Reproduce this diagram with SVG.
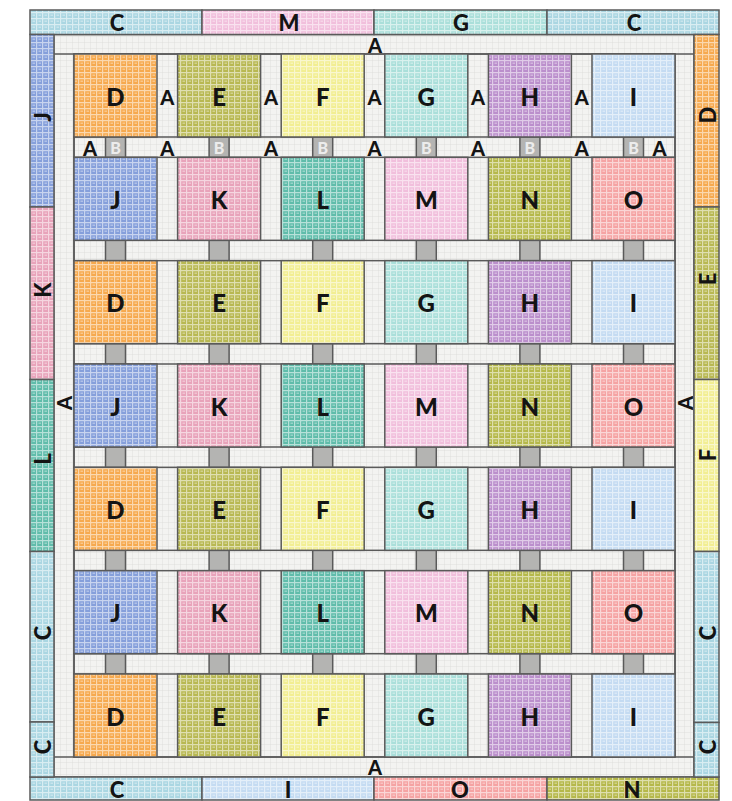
<svg xmlns="http://www.w3.org/2000/svg" width="732" height="801" viewBox="0 0 732 801">
<defs>
<pattern id="tex" width="6" height="6" patternUnits="userSpaceOnUse">
<path d="M0 0.6H6M0.6 0V6" stroke="#fff" stroke-opacity="0.55" stroke-width="1.2"/>
<rect x="2.5" y="2.5" width="2.5" height="1.5" fill="#fff" opacity="0.35"/>
</pattern>
<pattern id="tex2" width="6" height="6" patternUnits="userSpaceOnUse">
<path d="M0 0.5H6M0.5 0V6" stroke="#d8d8d6" stroke-opacity="0.45" stroke-width="0.8"/>
</pattern>
</defs>
<style>
.tx{fill:url(#tex);stroke:#5a5a5a;stroke-width:1.5}
.sh{fill:#f3f3f1;stroke:#5a5a5a;stroke-width:1.5}
.st{fill:url(#tex2);stroke:none}
.cs{fill:#b4b4b2;stroke:#5a5a5a;stroke-width:1.5}
.D{fill:#f6a94e}.E{fill:#b8b852}.F{fill:#f2ee92}.G{fill:#aadfda}.H{fill:#bb8fcc}.I{fill:#c4dbf2}
.J{fill:#859fdb}.K{fill:#e8a3ba}.L{fill:#5fbcaa}.M{fill:#f1bfdc}.N{fill:#b5b84a}.O{fill:#f5a3a3}.C{fill:#aad6e2}
text{font-family:"Lato","DejaVu Sans",sans-serif;font-weight:900;fill:#141414;text-anchor:middle;dominant-baseline:central}
.bl{font-size:24px}
.sa{font-size:20px}
.bd{font-size:22px}
.bb{font-size:16px;fill:#ececec}
</style>

<g id="sashing">
<rect class="sh" x="54" y="34.5" width="640" height="742.5"/>
<rect class="st" x="54" y="34.5" width="640" height="742.5"/>
<rect fill="none" stroke="#5a5a5a" stroke-width="1.5" x="74" y="54" width="601" height="703"/>
<line x1="54" y1="54" x2="694" y2="54" stroke="#5a5a5a" stroke-width="1.5"/>
<line x1="54" y1="757" x2="694" y2="757" stroke="#5a5a5a" stroke-width="1.5"/>
<g fill="none" stroke="#5a5a5a" stroke-width="1.5">
<rect x="74" y="137" width="601" height="20.33"/>
<rect x="74" y="240.33" width="601" height="20.33"/>
<rect x="74" y="343.67" width="601" height="20.33"/>
<rect x="74" y="447" width="601" height="20.33"/>
<rect x="74" y="550.33" width="601" height="20.33"/>
<rect x="74" y="653.67" width="601" height="20.33"/>
</g>
<text class="sa" x="375" y="44.5">A</text>
<text class="sa" x="375" y="766.5">A</text>
<text class="sa" x="64" y="403" transform="rotate(-90 64 403)">A</text>
<text class="sa" x="685" y="403" transform="rotate(-90 685 403)">A</text>
<text class="sa" x="167.3" y="97">A</text>
<text class="sa" x="270.9" y="97">A</text>
<text class="sa" x="374.5" y="97">A</text>
<text class="sa" x="478.1" y="97">A</text>
<text class="sa" x="581.7" y="97">A</text>
<text class="sa" x="90" y="147.5">A</text>
<text class="sa" x="167.3" y="147.5">A</text>
<text class="sa" x="270.9" y="147.5">A</text>
<text class="sa" x="374.5" y="147.5">A</text>
<text class="sa" x="478.1" y="147.5">A</text>
<text class="sa" x="581.7" y="147.5">A</text>
<text class="sa" x="659.5" y="147.5">A</text>
</g>

<g id="cornerstones">
<g id="cs-row1">
<rect class="cs" x="105.5" y="137" width="20" height="20.33"/><rect class="cs" x="209.1" y="137" width="20" height="20.33"/><rect class="cs" x="312.7" y="137" width="20" height="20.33"/><rect class="cs" x="416.3" y="137" width="20" height="20.33"/><rect class="cs" x="519.9" y="137" width="20" height="20.33"/><rect class="cs" x="623.5" y="137" width="20" height="20.33"/>
<text class="bb" x="115.5" y="147.5">B</text><text class="bb" x="219.1" y="147.5">B</text><text class="bb" x="322.7" y="147.5">B</text><text class="bb" x="426.3" y="147.5">B</text><text class="bb" x="529.9" y="147.5">B</text><text class="bb" x="633.5" y="147.5">B</text>
</g>
<g id="cs-row2">
<rect class="cs" x="105.5" y="240.33" width="20" height="20.33"/><rect class="cs" x="209.1" y="240.33" width="20" height="20.33"/><rect class="cs" x="312.7" y="240.33" width="20" height="20.33"/><rect class="cs" x="416.3" y="240.33" width="20" height="20.33"/><rect class="cs" x="519.9" y="240.33" width="20" height="20.33"/><rect class="cs" x="623.5" y="240.33" width="20" height="20.33"/>
</g>
<g id="cs-row3">
<rect class="cs" x="105.5" y="343.67" width="20" height="20.33"/><rect class="cs" x="209.1" y="343.67" width="20" height="20.33"/><rect class="cs" x="312.7" y="343.67" width="20" height="20.33"/><rect class="cs" x="416.3" y="343.67" width="20" height="20.33"/><rect class="cs" x="519.9" y="343.67" width="20" height="20.33"/><rect class="cs" x="623.5" y="343.67" width="20" height="20.33"/>
</g>
<g id="cs-row4">
<rect class="cs" x="105.5" y="447" width="20" height="20.33"/><rect class="cs" x="209.1" y="447" width="20" height="20.33"/><rect class="cs" x="312.7" y="447" width="20" height="20.33"/><rect class="cs" x="416.3" y="447" width="20" height="20.33"/><rect class="cs" x="519.9" y="447" width="20" height="20.33"/><rect class="cs" x="623.5" y="447" width="20" height="20.33"/>
</g>
<g id="cs-row5">
<rect class="cs" x="105.5" y="550.33" width="20" height="20.33"/><rect class="cs" x="209.1" y="550.33" width="20" height="20.33"/><rect class="cs" x="312.7" y="550.33" width="20" height="20.33"/><rect class="cs" x="416.3" y="550.33" width="20" height="20.33"/><rect class="cs" x="519.9" y="550.33" width="20" height="20.33"/><rect class="cs" x="623.5" y="550.33" width="20" height="20.33"/>
</g>
<g id="cs-row6">
<rect class="cs" x="105.5" y="653.67" width="20" height="20.33"/><rect class="cs" x="209.1" y="653.67" width="20" height="20.33"/><rect class="cs" x="312.7" y="653.67" width="20" height="20.33"/><rect class="cs" x="416.3" y="653.67" width="20" height="20.33"/><rect class="cs" x="519.9" y="653.67" width="20" height="20.33"/><rect class="cs" x="623.5" y="653.67" width="20" height="20.33"/>
</g>
</g>

<g id="blocks">
<g id="b1-D"><rect class="D" x="74" y="54" width="83" height="83"/><rect class="tx" x="74" y="54" width="83" height="83"/><text class="bl" x="115.5" y="96">D</text></g>
<g id="b1-E"><rect class="E" x="177.6" y="54" width="83" height="83"/><rect class="tx" x="177.6" y="54" width="83" height="83"/><text class="bl" x="219.1" y="96">E</text></g>
<g id="b1-F"><rect class="F" x="281.2" y="54" width="83" height="83"/><rect class="tx" x="281.2" y="54" width="83" height="83"/><text class="bl" x="322.7" y="96">F</text></g>
<g id="b1-G"><rect class="G" x="384.8" y="54" width="83" height="83"/><rect class="tx" x="384.8" y="54" width="83" height="83"/><text class="bl" x="426.3" y="96">G</text></g>
<g id="b1-H"><rect class="H" x="488.4" y="54" width="83" height="83"/><rect class="tx" x="488.4" y="54" width="83" height="83"/><text class="bl" x="529.9" y="96">H</text></g>
<g id="b1-I"><rect class="I" x="592" y="54" width="83" height="83"/><rect class="tx" x="592" y="54" width="83" height="83"/><text class="bl" x="633.5" y="96">I</text></g>

<g id="b2-J"><rect class="J" x="74" y="157.33" width="83" height="83"/><rect class="tx" x="74" y="157.33" width="83" height="83"/><text class="bl" x="115.5" y="199.3">J</text></g>
<g id="b2-K"><rect class="K" x="177.6" y="157.33" width="83" height="83"/><rect class="tx" x="177.6" y="157.33" width="83" height="83"/><text class="bl" x="219.1" y="199.3">K</text></g>
<g id="b2-L"><rect class="L" x="281.2" y="157.33" width="83" height="83"/><rect class="tx" x="281.2" y="157.33" width="83" height="83"/><text class="bl" x="322.7" y="199.3">L</text></g>
<g id="b2-M"><rect class="M" x="384.8" y="157.33" width="83" height="83"/><rect class="tx" x="384.8" y="157.33" width="83" height="83"/><text class="bl" x="426.3" y="199.3">M</text></g>
<g id="b2-N"><rect class="N" x="488.4" y="157.33" width="83" height="83"/><rect class="tx" x="488.4" y="157.33" width="83" height="83"/><text class="bl" x="529.9" y="199.3">N</text></g>
<g id="b2-O"><rect class="O" x="592" y="157.33" width="83" height="83"/><rect class="tx" x="592" y="157.33" width="83" height="83"/><text class="bl" x="633.5" y="199.3">O</text></g>

<g id="b3-D"><rect class="D" x="74" y="260.67" width="83" height="83"/><rect class="tx" x="74" y="260.67" width="83" height="83"/><text class="bl" x="115.5" y="302.7">D</text></g>
<g id="b3-E"><rect class="E" x="177.6" y="260.67" width="83" height="83"/><rect class="tx" x="177.6" y="260.67" width="83" height="83"/><text class="bl" x="219.1" y="302.7">E</text></g>
<g id="b3-F"><rect class="F" x="281.2" y="260.67" width="83" height="83"/><rect class="tx" x="281.2" y="260.67" width="83" height="83"/><text class="bl" x="322.7" y="302.7">F</text></g>
<g id="b3-G"><rect class="G" x="384.8" y="260.67" width="83" height="83"/><rect class="tx" x="384.8" y="260.67" width="83" height="83"/><text class="bl" x="426.3" y="302.7">G</text></g>
<g id="b3-H"><rect class="H" x="488.4" y="260.67" width="83" height="83"/><rect class="tx" x="488.4" y="260.67" width="83" height="83"/><text class="bl" x="529.9" y="302.7">H</text></g>
<g id="b3-I"><rect class="I" x="592" y="260.67" width="83" height="83"/><rect class="tx" x="592" y="260.67" width="83" height="83"/><text class="bl" x="633.5" y="302.7">I</text></g>

<g id="b4-J"><rect class="J" x="74" y="364" width="83" height="83"/><rect class="tx" x="74" y="364" width="83" height="83"/><text class="bl" x="115.5" y="406">J</text></g>
<g id="b4-K"><rect class="K" x="177.6" y="364" width="83" height="83"/><rect class="tx" x="177.6" y="364" width="83" height="83"/><text class="bl" x="219.1" y="406">K</text></g>
<g id="b4-L"><rect class="L" x="281.2" y="364" width="83" height="83"/><rect class="tx" x="281.2" y="364" width="83" height="83"/><text class="bl" x="322.7" y="406">L</text></g>
<g id="b4-M"><rect class="M" x="384.8" y="364" width="83" height="83"/><rect class="tx" x="384.8" y="364" width="83" height="83"/><text class="bl" x="426.3" y="406">M</text></g>
<g id="b4-N"><rect class="N" x="488.4" y="364" width="83" height="83"/><rect class="tx" x="488.4" y="364" width="83" height="83"/><text class="bl" x="529.9" y="406">N</text></g>
<g id="b4-O"><rect class="O" x="592" y="364" width="83" height="83"/><rect class="tx" x="592" y="364" width="83" height="83"/><text class="bl" x="633.5" y="406">O</text></g>

<g id="b5-D"><rect class="D" x="74" y="467.33" width="83" height="83"/><rect class="tx" x="74" y="467.33" width="83" height="83"/><text class="bl" x="115.5" y="509.3">D</text></g>
<g id="b5-E"><rect class="E" x="177.6" y="467.33" width="83" height="83"/><rect class="tx" x="177.6" y="467.33" width="83" height="83"/><text class="bl" x="219.1" y="509.3">E</text></g>
<g id="b5-F"><rect class="F" x="281.2" y="467.33" width="83" height="83"/><rect class="tx" x="281.2" y="467.33" width="83" height="83"/><text class="bl" x="322.7" y="509.3">F</text></g>
<g id="b5-G"><rect class="G" x="384.8" y="467.33" width="83" height="83"/><rect class="tx" x="384.8" y="467.33" width="83" height="83"/><text class="bl" x="426.3" y="509.3">G</text></g>
<g id="b5-H"><rect class="H" x="488.4" y="467.33" width="83" height="83"/><rect class="tx" x="488.4" y="467.33" width="83" height="83"/><text class="bl" x="529.9" y="509.3">H</text></g>
<g id="b5-I"><rect class="I" x="592" y="467.33" width="83" height="83"/><rect class="tx" x="592" y="467.33" width="83" height="83"/><text class="bl" x="633.5" y="509.3">I</text></g>

<g id="b6-J"><rect class="J" x="74" y="570.67" width="83" height="83"/><rect class="tx" x="74" y="570.67" width="83" height="83"/><text class="bl" x="115.5" y="612.7">J</text></g>
<g id="b6-K"><rect class="K" x="177.6" y="570.67" width="83" height="83"/><rect class="tx" x="177.6" y="570.67" width="83" height="83"/><text class="bl" x="219.1" y="612.7">K</text></g>
<g id="b6-L"><rect class="L" x="281.2" y="570.67" width="83" height="83"/><rect class="tx" x="281.2" y="570.67" width="83" height="83"/><text class="bl" x="322.7" y="612.7">L</text></g>
<g id="b6-M"><rect class="M" x="384.8" y="570.67" width="83" height="83"/><rect class="tx" x="384.8" y="570.67" width="83" height="83"/><text class="bl" x="426.3" y="612.7">M</text></g>
<g id="b6-N"><rect class="N" x="488.4" y="570.67" width="83" height="83"/><rect class="tx" x="488.4" y="570.67" width="83" height="83"/><text class="bl" x="529.9" y="612.7">N</text></g>
<g id="b6-O"><rect class="O" x="592" y="570.67" width="83" height="83"/><rect class="tx" x="592" y="570.67" width="83" height="83"/><text class="bl" x="633.5" y="612.7">O</text></g>

<g id="b7-D"><rect class="D" x="74" y="674" width="83" height="83"/><rect class="tx" x="74" y="674" width="83" height="83"/><text class="bl" x="115.5" y="716">D</text></g>
<g id="b7-E"><rect class="E" x="177.6" y="674" width="83" height="83"/><rect class="tx" x="177.6" y="674" width="83" height="83"/><text class="bl" x="219.1" y="716">E</text></g>
<g id="b7-F"><rect class="F" x="281.2" y="674" width="83" height="83"/><rect class="tx" x="281.2" y="674" width="83" height="83"/><text class="bl" x="322.7" y="716">F</text></g>
<g id="b7-G"><rect class="G" x="384.8" y="674" width="83" height="83"/><rect class="tx" x="384.8" y="674" width="83" height="83"/><text class="bl" x="426.3" y="716">G</text></g>
<g id="b7-H"><rect class="H" x="488.4" y="674" width="83" height="83"/><rect class="tx" x="488.4" y="674" width="83" height="83"/><text class="bl" x="529.9" y="716">H</text></g>
<g id="b7-I"><rect class="I" x="592" y="674" width="83" height="83"/><rect class="tx" x="592" y="674" width="83" height="83"/><text class="bl" x="633.5" y="716">I</text></g>
</g>

<g id="border">
<g id="top-C1"><rect class="C" x="30" y="10" width="172" height="24.5"/><rect class="tx" x="30" y="10" width="172" height="24.5"/><text class="bd" x="117" y="22.5">C</text></g>
<g id="top-M"><rect class="M" x="202" y="10" width="172" height="24.5"/><rect class="tx" x="202" y="10" width="172" height="24.5"/><text class="bd" x="289" y="22.5">M</text></g>
<g id="top-G"><rect class="G" x="374" y="10" width="173" height="24.5"/><rect class="tx" x="374" y="10" width="173" height="24.5"/><text class="bd" x="461" y="22.5">G</text></g>
<g id="top-C2"><rect class="C" x="547" y="10" width="172" height="24.5"/><rect class="tx" x="547" y="10" width="172" height="24.5"/><text class="bd" x="634" y="22.5">C</text></g>

<g id="bot-C"><rect class="C" x="30" y="777" width="172" height="23"/><rect class="tx" x="30" y="777" width="172" height="23"/><text class="bd" x="117" y="789">C</text></g>
<g id="bot-I"><rect class="I" x="202" y="777" width="172" height="23"/><rect class="tx" x="202" y="777" width="172" height="23"/><text class="bd" x="288" y="789">I</text></g>
<g id="bot-O"><rect class="O" x="374" y="777" width="173" height="23"/><rect class="tx" x="374" y="777" width="173" height="23"/><text class="bd" x="460" y="789">O</text></g>
<g id="bot-N"><rect class="N" x="547" y="777" width="172" height="23"/><rect class="tx" x="547" y="777" width="172" height="23"/><text class="bd" x="632" y="789">N</text></g>

<g id="left-J"><rect class="J" x="30" y="34.5" width="24" height="172.5"/><rect class="tx" x="30" y="34.5" width="24" height="172.5"/><text class="bd" x="42" y="117" transform="rotate(-90 42 117)">J</text></g>
<g id="left-K"><rect class="K" x="30" y="207" width="24" height="172.5"/><rect class="tx" x="30" y="207" width="24" height="172.5"/><text class="bd" x="42" y="290" transform="rotate(-90 42 290)">K</text></g>
<g id="left-L"><rect class="L" x="30" y="379.5" width="24" height="172"/><rect class="tx" x="30" y="379.5" width="24" height="172"/><text class="bd" x="42" y="459" transform="rotate(-90 42 459)">L</text></g>
<g id="left-C1"><rect class="C" x="30" y="551.5" width="24" height="170.5"/><rect class="tx" x="30" y="551.5" width="24" height="170.5"/><text class="bd" x="42" y="633" transform="rotate(-90 42 633)">C</text></g>
<g id="left-C2"><rect class="C" x="30" y="722" width="24" height="55"/><rect class="tx" x="30" y="722" width="24" height="55"/><text class="bd" x="42" y="747" transform="rotate(-90 42 747)">C</text></g>

<g id="right-D"><rect class="D" x="694" y="34.5" width="25" height="172.5"/><rect class="tx" x="694" y="34.5" width="25" height="172.5"/><text class="bd" x="707" y="115" transform="rotate(-90 707 115)">D</text></g>
<g id="right-E"><rect class="E" x="694" y="207" width="25" height="172.5"/><rect class="tx" x="694" y="207" width="25" height="172.5"/><text class="bd" x="707" y="279" transform="rotate(-90 707 279)">E</text></g>
<g id="right-F"><rect class="F" x="694" y="379.5" width="25" height="172"/><rect class="tx" x="694" y="379.5" width="25" height="172"/><text class="bd" x="707" y="455" transform="rotate(-90 707 455)">F</text></g>
<g id="right-C1"><rect class="C" x="694" y="551.5" width="25" height="171"/><rect class="tx" x="694" y="551.5" width="25" height="171"/><text class="bd" x="707" y="633" transform="rotate(-90 707 633)">C</text></g>
<g id="right-C2"><rect class="C" x="694" y="722.5" width="25" height="54.5"/><rect class="tx" x="694" y="722.5" width="25" height="54.5"/><text class="bd" x="707" y="747" transform="rotate(-90 707 747)">C</text></g>
</g>
<g id="connectors"/>
</svg>
